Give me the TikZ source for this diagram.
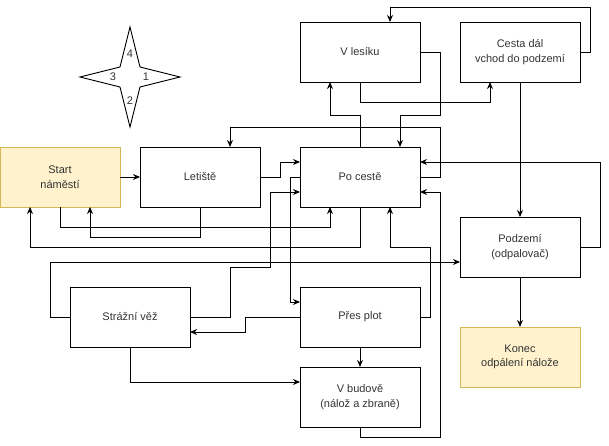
\documentclass[tikz,border=0pt]{standalone}
\usepackage{fontspec}
\setmainfont{Liberation Sans}
\usepackage{xcolor}
\usetikzlibrary{positioning,arrows.meta}
\definecolor{endfill}{HTML}{FFF2CC}
\definecolor{enddraw}{HTML}{D6B656}
\definecolor{txt}{HTML}{333333}

\begin{document}
\begin{tikzpicture}[
  x=1pt, y=-1pt,
  >={Stealth[length=7pt,width=6pt]},
  every path/.style={line width=0.9pt},
  place/.style={draw, minimum width=120pt, minimum height=60pt, outer sep=0pt, align=center, text=txt, font=\fontsize{11}{14.5}\selectfont},
  endplace/.style={place, fill=endfill, draw=enddraw},
  num/.style={text=txt, font=\fontsize{11}{13}\selectfont, inner sep=0pt},
  node distance=20pt,
]
\useasboundingbox (0,0) rectangle (609,446);
% rooms
\node[place] (pocest) at (360,177) {Po cestě};
\node[place, left=40pt of pocest] (letiste) {Letiště};
\node[endplace, left=of letiste] (start) {Start\\náměstí};
\node[place, above=65pt of pocest] (lesik) {V lesíku};
\node[place, right=40pt of lesik] (cesta) {Cesta dál\\vchod do podzemí};
\node[place, right=40pt of pocest, yshift=-70pt] (podzemi) {Podzemí\\(odpalovač)};
\node[endplace, below=50pt of podzemi] (konec) {Konec\\odpálení nálože};
\node[place, below=80pt of pocest] (plot) {Přes plot};
\node[place, below=of plot] (budova) {V budově\\(nálož a zbraně)};
\node[place, left=110pt of plot] (straz) {Strážní věž};
% compass
\draw (130,27) -- (140,67) -- (180,77) -- (140,87) -- (130,127) -- (120,87) -- (80,77) -- (120,67) -- cycle;
\node[num] (sever) at (130,54) {4};
\node[num] (zapad) at (113,77) {3};
\node[num] (vychod) at (146,77) {1};
\node[num] (jih) at (130,101) {2};
% paths
\draw[->] (start) -- (letiste);
\draw[->] (letiste.east) -- ++(20,0) |- ([yshift=15pt]pocest.west);
\draw[->] (pocest.east) -- ++(20,0) -- ++(0,-50) -| ([xshift=30pt]letiste.north);
\draw[->] (lesik.east) -- ++(20,0) -- ++(0,63) -| ([xshift=40pt]pocest.north);
\draw[->] (pocest.north) -- ++(0,-32) -| ([xshift=-30pt]lesik.south);
\draw[->] (lesik.south) -- ++(0,20) -| ([xshift=-30pt]cesta.south);
\draw[->] (cesta.east) -- ++(10,0) -- ++(0,-45) -| ([xshift=30pt]lesik.north);
\draw[->] (cesta) -- (podzemi);
\draw[->] (podzemi.east) -- ++(20,0) |- ([yshift=15pt]pocest.east);
\draw[->] (budova.south) -- ++(0,10) -- ++(80,0) |- ([yshift=-15pt]pocest.east);
\draw[->] (plot.east) -- ++(10,0) -- ++(0,-70) -| ([xshift=30pt]pocest.south);
\draw[->] (pocest.south) -- ++(0,40) -| ([xshift=-30pt]start.south);
\draw[->] (start.south) -- ++(0,20) -| ([xshift=-30pt]pocest.south);
\draw[->] (letiste.south) -- ++(0,30) -| ([xshift=30pt]start.south);
\draw[->] (straz.west) -- ++(-20,0) |- ([yshift=-15pt]podzemi.west);
\draw[->] (straz.east) -- ++(40,0) -- ++(0,-50) -- ++(40,0) |- ([yshift=-15pt]pocest.west);
\draw[->] (pocest.west) -- ++(-10,0) |- ([yshift=15pt]plot.west);
\draw[->] (plot.west) -- ++(-55,0) |- ([yshift=-15pt]straz.east);
\draw[->] (straz.south) |- ([yshift=15pt]budova.west);
\draw[->] (plot) -- (budova);
\draw[->] (podzemi) -- (konec);
\end{tikzpicture}
\end{document}
